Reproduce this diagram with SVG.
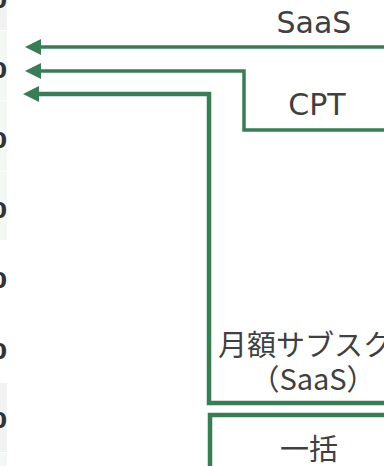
<svg xmlns="http://www.w3.org/2000/svg" width="384" height="466" viewBox="0 0 384 466">
<style>
.cell-g{fill:#f2f2f2}
.cell-t{fill:#f3f8f5}
.num{font-family:"DejaVu Sans",sans-serif;font-weight:bold;font-size:22px;fill:#333333;text-anchor:end}
.lbl{font-family:"DejaVu Sans","Noto Sans CJK JP",sans-serif;font-size:30px;fill:#404040;text-anchor:middle}
.jp{font-family:"Noto Sans CJK JP","DejaVu Sans",sans-serif;font-size:29px;fill:#404040;text-anchor:middle}
.conn{fill:none;stroke:#3a7d55;stroke-width:3.5}
.box{fill:none;stroke:#3a7d55;stroke-width:4.5}
</style>
<defs>
<marker id="ah" viewBox="0 0 16 16" refX="0" refY="8" markerWidth="16" markerHeight="16" markerUnits="userSpaceOnUse" orient="auto">
<path d="M0,0 L16,8 L0,16 Z" fill="#3a7d55"/>
</marker>
</defs>
<rect width="384" height="466" fill="#ffffff"/>
<g id="table-edge">
<rect class="cell-g" x="0" y="0" width="7" height="30"/>
<rect class="cell-t" x="0" y="31" width="7" height="69"/>
<rect class="cell-t" x="0" y="101" width="7" height="70"/>
<rect class="cell-t" x="0" y="172" width="7" height="68"/>
<rect class="cell-g" x="0" y="383" width="7" height="69"/>
<rect class="cell-t" x="0" y="453" width="7" height="13"/>
<text class="num" x="7" y="8">0</text>
<text class="num" x="7" y="78">0</text>
<text class="num" x="7" y="148">0</text>
<text class="num" x="7" y="218">0</text>
<text class="num" x="7" y="288">0</text>
<text class="num" x="7" y="359">0</text>
<text class="num" x="7" y="428">0</text>
</g>
<g id="connectors">
<path class="conn" d="M384,47 H41" marker-end="url(#ah)"/>
<path class="conn" d="M384,130 H244 V71 H41" marker-end="url(#ah)"/>
<path class="box" d="M384,403 H209 V94 H39" marker-end="url(#ah)"/>
</g>
<g id="label-saas"><text class="lbl" x="314" y="33">SaaS</text></g>
<g id="label-cpt"><text class="lbl" x="317" y="115">CPT</text></g>
<g id="node-monthly">
<text class="jp" x="305" y="356">月額サブスク</text>
<text class="jp" x="313" y="390">（SaaS）</text>
</g>
<g id="node-lump">
<path class="box" d="M210,470 V415 H390"/>
<text class="jp" x="309" y="460">一括</text>
</g>
</svg>
